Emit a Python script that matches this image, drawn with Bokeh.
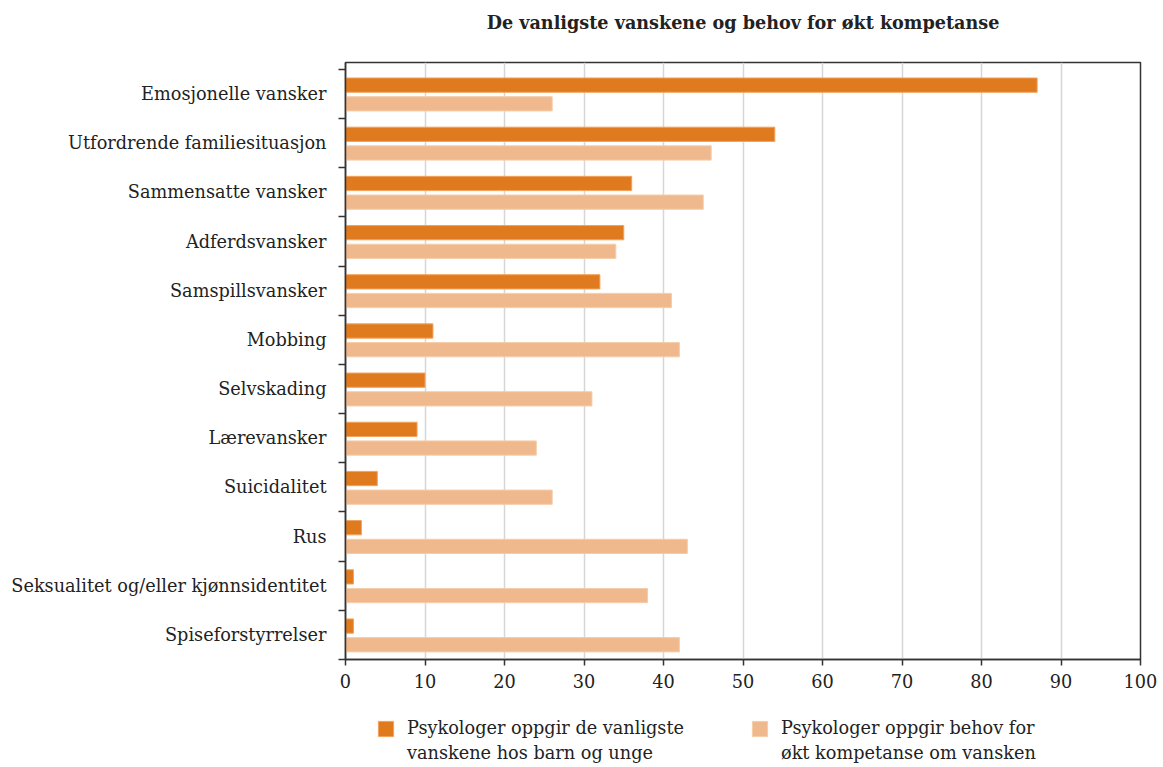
from bokeh.plotting import figure
from bokeh.layouts import column
from bokeh.models import Range1d, FixedTicker, Legend, LegendItem, ColumnDataSource, Label
from bokeh.embed import file_html
from bokeh.resources import INLINE

categories = ["Emosjonelle vansker", "Utfordrende familiesituasjon", "Sammensatte vansker",
              "Adferdsvansker", "Samspillsvansker", "Mobbing", "Selvskading", "Lærevansker",
              "Suicidalitet", "Rus", "Seksualitet og/eller kjønnsidentitet", "Spiseforstyrrelser"]
vanligste = [87, 54, 36, 35, 32, 11, 10, 9, 4, 2, 1, 1]
kompetanse = [26, 46, 45, 34, 41, 42, 31, 24, 26, 43, 38, 42]
x_ticks = [0, 10, 20, 30, 40, 50, 60, 70, 80, 90, 100]
title_text = "De vanligste vanskene og behov for økt kompetanse"
legend_labels = ["Psykologer oppgir de vanligste\nvanskene hos barn og unge",
                 "Psykologer oppgir behov for\nøkt kompetanse om vansken"]

FONT = "DejaVu Serif"
FS = "17.7px"
TXT = "#222222"
DARK = "#E07A1F"
LIGHT = "#F0B98D"
DARK_EDGE = "#F2A25C"
LIGHT_EDGE = "#F6CDA8"

n = len(categories)
centers = [n - i - 0.5 for i in range(n)]
src = ColumnDataSource(dict(
    cat=categories,
    y1=[c + 0.18 for c in centers],
    y2=[c - 0.2 for c in centers],
    v1=vanligste,
    v2=kompetanse,
))

# title strip (frames of the column are aligned, so x=50 is the chart's centre)
tp = figure(width=1163, height=40, output_backend="svg", toolbar_location=None,
            x_axis_location=None, y_axis_location=None, min_border=0,
            x_range=Range1d(0, 100), y_range=Range1d(0, 1))
tp.outline_line_color = None
tp.xgrid.grid_line_color = None
tp.ygrid.grid_line_color = None
tp.add_layout(Label(x=50, y=0.45, text=title_text, text_align="center", text_baseline="middle",
                    text_font=FONT, text_font_size="17.6px", text_font_style="bold",
                    text_color=TXT))

p = figure(width=1163, height=660, output_backend="svg", toolbar_location=None,
           x_range=Range1d(0, 100), y_range=Range1d(0, n + 0.14),
           min_border_left=345, min_border_right=23, min_border_top=22, min_border_bottom=41)

r1 = p.hbar(y="y1", right="v1", left=0, height=0.29, source=src,
            fill_color=DARK, line_color=DARK_EDGE, line_width=1)
r2 = p.hbar(y="y2", right="v2", left=0, height=0.29, source=src,
            fill_color=LIGHT, line_color=LIGHT_EDGE, line_width=1)

# x axis
p.xaxis.ticker = FixedTicker(ticks=x_ticks)
p.xaxis.major_label_text_font = FONT
p.xaxis.major_label_text_font_size = FS
p.xaxis.major_label_text_color = TXT
p.xaxis.major_tick_out = 6
p.xaxis.major_tick_in = 0
p.xaxis.minor_tick_out = 0
p.xaxis.minor_tick_in = 0
p.xaxis.major_label_standoff = 8
p.xaxis.axis_line_color = "#333333"
p.xaxis.axis_line_width = 1.5
p.xaxis.major_tick_line_color = "#333333"
p.xaxis.major_tick_line_width = 1.5

# y axis: labels at centers, ticks at boundaries
p.yaxis.ticker = FixedTicker(ticks=centers, minor_ticks=list(range(0, n + 1)))
p.yaxis.major_label_overrides = {c: lab for c, lab in zip(centers, categories)}
p.yaxis.major_label_text_font = FONT
p.yaxis.major_label_text_font_size = FS
p.yaxis.major_label_text_color = TXT
p.yaxis.major_tick_out = 0
p.yaxis.major_tick_in = 0
p.yaxis.minor_tick_out = 7
p.yaxis.minor_tick_in = 0
p.yaxis.minor_tick_line_color = "#333333"
p.yaxis.minor_tick_line_width = 1.5
p.yaxis.major_label_standoff = 12
p.yaxis.axis_line_color = "#333333"
p.yaxis.axis_line_width = 1.5

p.xgrid.ticker = FixedTicker(ticks=x_ticks)
p.xgrid.grid_line_color = "#D6D6D6"
p.xgrid.grid_line_width = 1.5
p.ygrid.grid_line_color = None

p.outline_line_color = "#333333"
p.outline_line_width = 1.5
p.background_fill_color = "white"
p.border_fill_color = "white"

# legend in its own strip below the chart
lp = figure(width=1163, height=67, output_backend="svg", toolbar_location=None,
            x_axis_location=None, y_axis_location=None, min_border=0,
            x_range=Range1d(0, 100), y_range=Range1d(-2, -1))
lp.outline_line_color = None
lp.xgrid.grid_line_color = None
lp.ygrid.grid_line_color = None
# same series in the strip, hidden: only their legend glyphs show
g1 = lp.hbar(y="y1", right="v1", left=0, height=0.29, source=src,
             fill_color=DARK, line_color=DARK_EDGE, line_width=1, visible=False)
g2 = lp.hbar(y="y2", right="v2", left=0, height=0.29, source=src,
             fill_color=LIGHT, line_color=LIGHT_EDGE, line_width=1, visible=False)
blank = lp.hbar(y="y2", right="v2", left=0, height=0.29, source=src,
                fill_alpha=0, line_alpha=0, visible=False)

l1a, l1b = legend_labels[0].split("\n")
l2a, l2b = legend_labels[1].split("\n")
legend = Legend(items=[LegendItem(label=l1a, renderers=[g1]),
                       LegendItem(label=l2a, renderers=[g2]),
                       LegendItem(label=l1b, renderers=[blank]),
                       LegendItem(label=l2b, renderers=[blank])],
                orientation="horizontal", ncols=2, location=(31, 4),
                label_text_font=FONT, label_text_font_size=FS, label_text_color=TXT,
                glyph_width=19, glyph_height=19, label_standoff=12, label_height=19,
                label_width=338, spacing=5, inactive_fill_alpha=0,
                border_line_color=None, background_fill_alpha=0, padding=0, margin=0)
lp.add_layout(legend)

layout = column(tp, p, lp, spacing=0)
open("out.html", "w").write(file_html(layout, INLINE))
